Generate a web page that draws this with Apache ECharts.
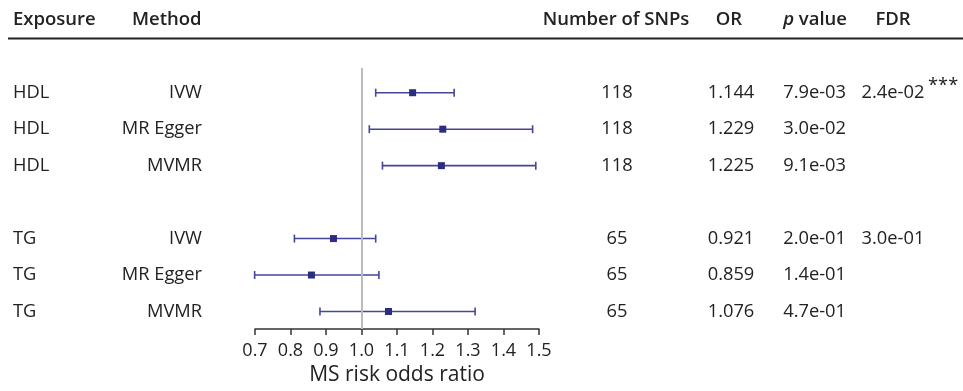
<!DOCTYPE html>
<html>
<head>
<meta charset="utf-8">
<script src="https://cdn.jsdelivr.net/npm/echarts@6/dist/echarts.min.js"></script>
<style>
  html, body { margin: 0; padding: 0; background: #fff; }
  #chart { width: 963px; height: 391px; }
</style>
</head>
<body>
<div id="chart"></div>
<script>
// rows of the forest table
const exposures = ['HDL', 'HDL', 'HDL', 'TG', 'TG', 'TG'];
const methods = ['IVW', 'MR Egger', 'MVMR', 'IVW', 'MR Egger', 'MVMR'];
const rowPos = [1, 2, 3, 5, 6, 7];
const nSnps = [118, 118, 118, 65, 65, 65];
const orVals = [1.144, 1.229, 1.225, 0.921, 0.859, 1.076];
const ciLow = [1.040, 1.022, 1.059, 0.811, 0.699, 0.883];
const ciHigh = [1.261, 1.482, 1.491, 1.040, 1.049, 1.320];
const pVals = ['7.9e-03', '3.0e-02', '9.1e-03', '2.0e-01', '1.4e-01', '4.7e-01'];
const fdrVals = ['2.4e-02', '', '', '3.0e-01', '', ''];
const fdrStars = ['***', '', '', '', '', ''];

const FONT = "'Open Sans', 'Noto Sans', sans-serif";
const TXT = '#222';
const BAR = '#45459a';
const DOT = '#2c2c80';

const chart = echarts.init(document.getElementById('chart'));

const headers = [
  { text: 'Exposure', x: 13, align: 'left' },
  { text: 'Method', x: 132, align: 'left' },
  { text: 'Number of SNPs', x: 616, align: 'center' },
  { text: 'OR', x: 729, align: 'center' },
  { text: '{i|p} value', x: 847, align: 'right' },
  { text: 'FDR', x: 893, align: 'center' }
];

const cell = (text, x, y, align) => ({
  type: 'text',
  style: {
    text: text, x: x, y: y, align: align, verticalAlign: 'middle',
    fill: TXT, font: '18.3px ' + FONT
  }
});

chart.setOption({
  animation: false,
  grid: { left: 255, right: 424, top: 68, bottom: 59 },
  xAxis: {
    type: 'value', min: 0.7, max: 1.5, interval: 0.1,
    axisLine: { show: true, lineStyle: { color: '#333', width: 1.5 } },
    axisTick: { show: true, length: 6, lineStyle: { color: '#333', width: 1.5 } },
    axisLabel: {
      color: TXT, fontSize: 18, fontFamily: FONT, margin: 13,
      formatter: v => v.toFixed(1)
    },
    splitLine: { show: false },
    name: 'MS risk odds ratio',
    nameLocation: 'middle', nameGap: 36,
    nameTextStyle: { color: TXT, fontSize: 21, fontFamily: FONT }
  },
  yAxis: {
    type: 'value', inverse: true, min: 0.322, max: 7.48, show: false,
    splitLine: { show: false }
  },
  graphic: [
    ...headers.map(h => ({
      type: 'text', x: h.x, y: 20,
      style: {
        text: h.text, x: 0, y: 0, align: h.align, verticalAlign: 'middle',
        fill: TXT, font: '600 18.5px ' + FONT,
        rich: { i: { fontStyle: 'italic', fontWeight: 600, fontSize: 18.5, fontFamily: FONT, fill: TXT } }
      }
    })),
    { type: 'line', shape: { x1: 8, y1: 38.5, x2: 963, y2: 38.5 }, style: { stroke: '#222', lineWidth: 2 } }
  ],
  series: [
    {
      type: 'custom',
      clip: false,
      data: rowPos.map((r, i) => [ciLow[i], ciHigh[i], r]),
      renderItem: (params, api) => {
        const a = api.coord([api.value(0), api.value(2)]);
        const b = api.coord([api.value(1), api.value(2)]);
        const st = { stroke: BAR, lineWidth: 1.6 };
        return {
          type: 'group',
          children: [
            { type: 'line', shape: { x1: a[0], y1: a[1], x2: b[0], y2: b[1] }, style: st },
            { type: 'line', shape: { x1: a[0], y1: a[1] - 4, x2: a[0], y2: a[1] + 4 }, style: st },
            { type: 'line', shape: { x1: b[0], y1: b[1] - 4, x2: b[0], y2: b[1] + 4 }, style: st }
          ]
        };
      }
    },
    {
      type: 'scatter',
      symbol: 'rect', symbolSize: 7,
      itemStyle: { color: DOT, opacity: 1 },
      data: rowPos.map((r, i) => [orVals[i], r]),
      markLine: {
        silent: true, symbol: 'none', label: { show: false },
        lineStyle: { color: '#bbb', width: 2, type: 'solid' },
        data: [{ xAxis: 1.0 }]
      },
      z: 3
    },
    {
      type: 'custom',
      clip: false,
      data: rowPos.map((r, i) => [i, r]),
      renderItem: (params, api) => {
        const i = api.value(0);
        const y = api.coord([1, api.value(1)])[1];
        return {
          type: 'group',
          children: [
            cell(exposures[i], 13, y, 'left'),
            cell(methods[i], 202, y, 'right'),
            cell(String(nSnps[i]), 617, y, 'center'),
            cell(orVals[i].toFixed(3), 731, y, 'center'),
            cell(pVals[i], 846, y, 'right'),
            cell(fdrVals[i], 893, y, 'center'),
            cell(fdrStars[i], 928, y - 7, 'left')
          ]
        };
      }
    }
  ]
});
</script>
</body>
</html>
